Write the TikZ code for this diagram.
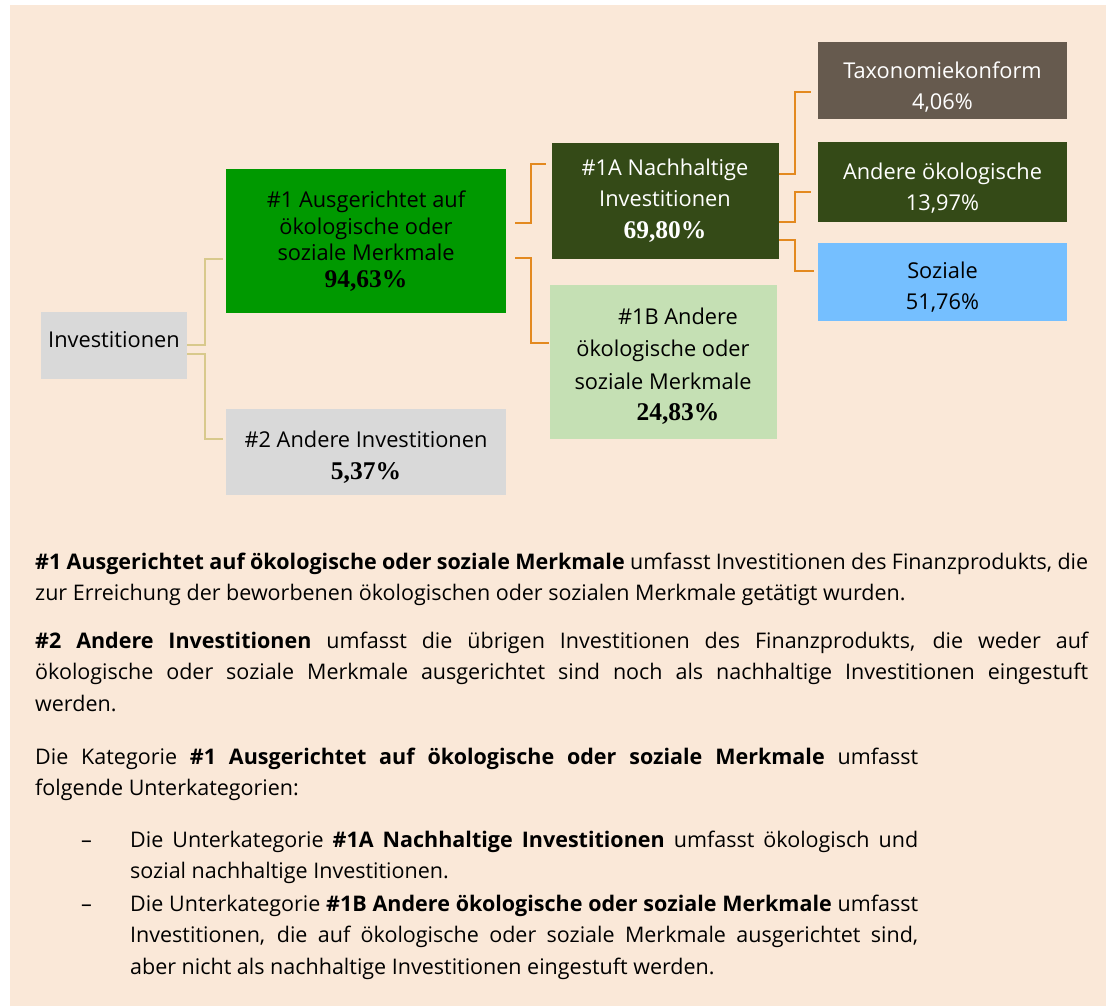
\documentclass[tikz,border=0pt]{standalone}
\usepackage{fontspec}
\setmainfont{Open Sans}
\newfontfamily\pctfont{Liberation Serif}
\usepackage{tikz}
\hyphenpenalty=10000
\exhyphenpenalty=10000

\definecolor{peach}{HTML}{FAE8D8}
\definecolor{boxgray}{HTML}{D9D9D9}
\definecolor{brightgreen}{HTML}{009900}
\definecolor{darkgreen}{HTML}{344A17}
\definecolor{lightgreen}{HTML}{C5E0B4}
\definecolor{taupe}{HTML}{665A4E}
\definecolor{skyblue}{HTML}{75BFFF}
\definecolor{khaki}{HTML}{D8C98C}
\definecolor{amber}{HTML}{E3891F}

\newcommand{\pct}[1]{{\pctfont\bfseries\fontsize{25.5}{26.5}\selectfont #1}}
\newcommand{\drop}[1]{\rule{0pt}{#1}}

\begin{document}
\begin{tikzpicture}[x=1pt,y=-1pt,
    box/.style={rectangle,inner sep=0pt,align=center,font=\fontsize{21.8}{26.5}\selectfont},
    para/.style={anchor=base west,inner sep=0pt,align=justify,font=\fontsize{21.5}{31.7}\selectfont},
    link/.style={line width=2pt,khaki},
    sublink/.style={line width=2pt,amber}]
        \useasboundingbox (0,0) rectangle (1112,1006);
        \fill[white] (0,0) rectangle (1112,1006);
        \fill[peach] (10,5) rectangle (1106,1006);

        \node[box,fill=boxgray,minimum width=146pt,minimum height=67pt,text depth=13pt] (inv) at (114,345.5) {Investitionen};
        \node[box,fill=brightgreen,minimum width=280pt,minimum height=144pt] (one) at (366,241) {\#1 Ausgerichtet auf\\ökologische oder\\soziale Merkmale\\\pct{94,63\%}};
        \node[box,fill=boxgray,minimum width=280pt,minimum height=86pt] (two) at (366,452) {\drop{27pt}\#2 Andere Investitionen\\[6pt]\pct{5,37\%}};
        \node[box,fill=darkgreen,text=white,minimum width=227pt,minimum height=116pt] (oneA) at (665,201) {\#1A Nachhaltige\\[4.5pt]Investitionen\\[5.5pt]\pct{69,80\%}};
        \node[box,fill=lightgreen,minimum width=227pt,minimum height=154pt] (oneB) at (663,362) {\drop{25pt}\hspace*{30pt}\#1B Andere\\[6pt]ökologische oder\\[6pt]soziale Merkmale\\[5pt]\hspace*{30pt}\pct{24,83\%}};
        \node[box,fill=taupe,text=white,minimum width=249pt,minimum height=77pt] (tax) at (942.5,80.5) {\drop{30pt}Taxonomiekonform\\[4pt]4,06\%};
        \node[box,fill=darkgreen,text=white,minimum width=249pt,minimum height=80pt] (ander) at (942.5,182.5) {\drop{28pt}Andere ökologische\\[4pt]13,97\%};
        \node[box,fill=skyblue,minimum width=249pt,minimum height=78pt] (soz) at (942.5,282) {\drop{27pt}Soziale\\[4pt]51,76\%};

        \draw[link] ([yshift=1pt]inv.east) -- ++(18,0) |- ([xshift=-3pt,yshift=-18pt]one.west);
        \draw[link] ([yshift=-8.5pt]inv.east) -- ++(18,0) |- ([xshift=-3pt,yshift=13pt]two.west);
        \draw[sublink] ([xshift=9pt,yshift=18pt]one.east) -- ++(16,0) |- ([xshift=-5.5pt,yshift=37pt]oneA.west);
        \draw[sublink] ([xshift=9pt,yshift=-17pt]one.east) -- ++(16,0) |- ([yshift=19pt]oneB.west);
        \draw[sublink] ([yshift=27pt]oneA.east) -- ++(16,0) |- ([xshift=-7pt,yshift=-11.5pt]tax.west);
        \draw[sublink] ([yshift=-21pt]oneA.east) -- ++(16,0) |- ([xshift=-7pt,yshift=-9.5pt]ander.west);
        \draw[sublink] ([yshift=-39pt]oneA.east) -- ++(16,0) |- ([xshift=-4pt,yshift=11pt]soz.west);

        \node[para,text width=1053pt] (txtone) at (35,569) {\textbf{\#1 Ausgerichtet auf ökologische oder soziale Merkmale} umfasst Investitionen des Finanzprodukts, die\linebreak zur Erreichung der beworbenen ökologischen oder sozialen Merkmale getätigt wurden.};
        \node[para,text width=1053pt] (txttwo) at (35,648) {\textbf{\#2 Andere Investitionen} umfasst die übrigen Investitionen des Finanzprodukts, die weder auf\linebreak ökologische oder soziale Merkmale ausgerichtet sind noch als nachhaltige Investitionen eingestuft\linebreak werden.};
        \node[para,text width=883pt] (txtkat) at (35,764) {Die Kategorie \textbf{\#1 Ausgerichtet auf ökologische oder soziale Merkmale} umfasst\linebreak folgende Unterkategorien:};
        \node[para] (dasha) at (81,847) {--};
        \node[para,text width=788pt] (itema) at (130,847) {Die Unterkategorie \textbf{\#1A Nachhaltige Investitionen} umfasst ökologisch und\linebreak sozial nachhaltige Investitionen.};
        \node[para] (dashb) at (81,911) {--};
        \node[para,text width=788pt] (itemb) at (130,911) {Die Unterkategorie \textbf{\#1B Andere ökologische oder soziale Merkmale} umfasst\linebreak Investitionen, die auf ökologische oder soziale Merkmale ausgerichtet sind,\linebreak aber nicht als nachhaltige Investitionen eingestuft werden.};
\end{tikzpicture}
\end{document}
